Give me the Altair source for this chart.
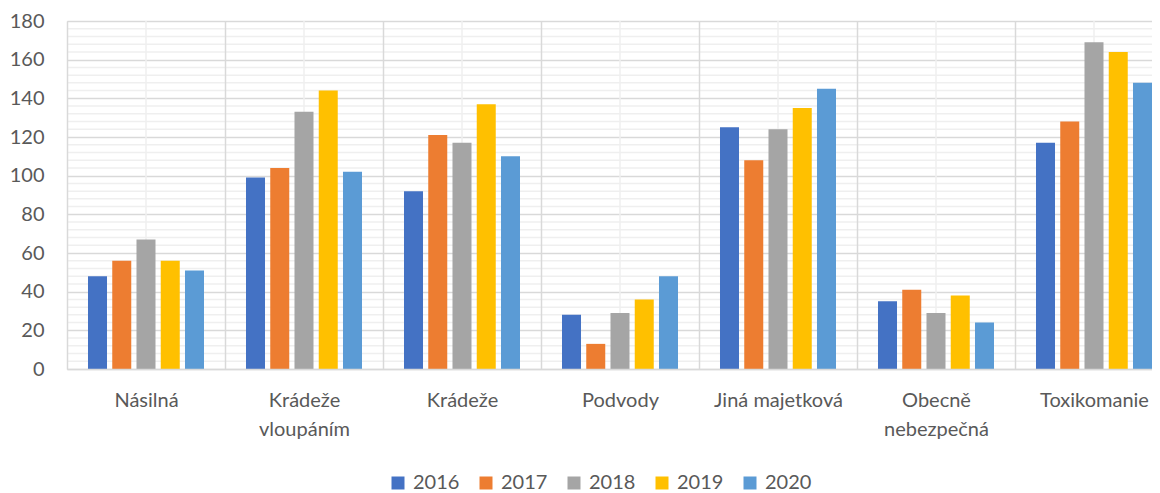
import altair as alt
import pandas as pd

categories = ["Násilná", "Krádeže vloupáním", "Krádeže", "Podvody",
              "Jiná majetková", "Obecně nebezpečná", "Toxikomanie"]
years = ["2016", "2017", "2018", "2019", "2020"]
colors = ["#4472C4", "#ED7D31", "#A5A5A5", "#FFC000", "#5B9BD5"]

v2016 = [48, 99, 92, 28, 125, 35, 117]
v2017 = [56, 104, 121, 13, 108, 41, 128]
v2018 = [67, 133, 117, 29, 124, 29, 169]
v2019 = [56, 144, 137, 36, 135, 38, 164]
v2020 = [51, 102, 110, 48, 145, 24, 148]
series = [v2016, v2017, v2018, v2019, v2020]

major_ticks = [0, 20, 40, 60, 80, 100, 120, 140, 160, 180]
minor_ticks = [t for t in range(0, 181, 4) if t % 20 != 0]

rows = []
for y, vals in zip(years, series):
    for c, v in zip(categories, vals):
        rows.append({"cat": c, "year": y, "val": v})
df = pd.DataFrame(rows)
cat_df = pd.DataFrame({"cat": categories})
minor_df = pd.DataFrame({"val": minor_ticks})

FONT = "Lato"
FS = 20
TXT = "#595959"
W = 1085
H = 348
RANGE = 1106

xscale = alt.Scale(domain=categories, range=[0, RANGE], paddingInner=0, paddingOuter=0)
yscale = alt.Scale(domain=[0, 180], nice=False)

label_expr = ("!isString(datum.value) ? '' : "
              "(datum.value == 'Jiná majetková' ? datum.value : split(datum.value, ' '))")

xaxis = alt.Axis(title=None, tickBand="extent", grid=True, gridColor="#d9d9d9",
                 gridWidth=1.5, ticks=False, domain=True, domainColor="#d9d9d9",
                 domainWidth=1.5, labelAngle=0, labelExpr=label_expr,
                 labelFont=FONT, labelFontSize=FS, labelColor=TXT, labelPadding=21,
                 labelLineHeight=29, labelBaseline="top", labelOverlap=False, zindex=1)
yaxis = alt.Axis(title=None, values=major_ticks, grid=True, gridColor="#d9d9d9",
                 gridWidth=1.5, ticks=False, domain=False, labelFont=FONT,
                 labelFontSize=FS, labelColor=TXT, labelPadding=23)

minor = alt.Chart(minor_df).mark_rule(color="#efefef", strokeWidth=1.5).encode(
    y=alt.Y("val:Q", scale=yscale, axis=yaxis),
    x=alt.value(0),
    x2=alt.value(RANGE),
)

centers = alt.Chart(cat_df).mark_rule(color="#efefef", strokeWidth=1.5).encode(
    x=alt.X("cat:N", scale=xscale, axis=xaxis),
    y=alt.value(0),
    y2=alt.value(H),
)

bars = alt.Chart(df).mark_bar().encode(
    x=alt.X("cat:N", scale=xscale, axis=xaxis),
    xOffset=alt.XOffset("year:N", sort=years,
                        scale=alt.Scale(paddingInner=0.216, paddingOuter=0.866)),
    y=alt.Y("val:Q", scale=yscale, axis=yaxis),
    color=alt.Color("year:N", sort=years, scale=alt.Scale(domain=years, range=colors),
                    legend=alt.Legend(title=None, orient="none", direction="horizontal",
                                      legendX=321, legendY=452, symbolType="square",
                                      symbolSize=169, symbolStrokeWidth=0,
                                      labelFont=FONT, labelFontSize=FS, labelColor=TXT,
                                      labelOffset=5, columnPadding=16)),
)

chart = alt.layer(minor, centers, bars).properties(
    width=W, height=H,
    autosize=alt.AutoSizeParams(type="none"),
    padding={"left": 59, "top": 13, "right": 0, "bottom": 130},
).configure_view(stroke=None).configure(background="white")

chart.save("out.html", embed_options={"renderer": "svg", "actions": False})
